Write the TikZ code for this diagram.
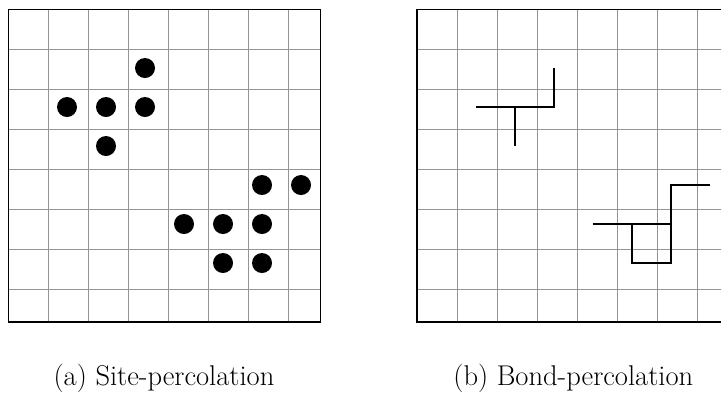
\documentclass[tikz,border=0pt]{standalone}
\begin{document}
\begin{tikzpicture}[x=0.975cm,y=-0.975cm,
  gridline/.style={black!42,line width=0.55pt},
  frame/.style={black,line width=1.4pt},
  site/.style={circle,fill=black,inner sep=0pt,minimum size=0.5cm},
  bond/.style={black,line width=1.45pt},
  caption/.style={font=\fontsize{20.3}{24}\selectfont,anchor=base}]
\useasboundingbox (0,0) rectangle (18.487,10.231);
% (a) site percolation
\begin{scope}[shift={(0.218,0.244)}]
  \draw[gridline] (0,0) grid (8,8);
  \draw[frame] (0,0) rectangle (8,8);
  \foreach \c/\r [count=\i] in {3/1,1/2,2/2,3/2,2/3,6/4,7/4,4/5,5/5,6/5,5/6,6/6}
    \node[site] (s\i) at (\c+0.5,\r+0.5) {};
\end{scope}
% (b) bond percolation
\begin{scope}[shift={(10.70,0.244)}]
  \draw[gridline] (0,0) grid (8,8);
  \draw[frame] (0,0) rectangle (8,8);
  \foreach \c/\r in {1/2,2/2,3/2,3/1,2/3,4/5,5/5,6/5,5/6,6/6,6/4,7/4}
    \coordinate (b\c\r) at (\c+0.5,\r+0.5);
  \draw[bond] (b12) -- (b32) -- (b31);
  \draw[bond] (b22) -- (b23);
  \draw[bond] (b45) -- (b65);
  \draw[bond] (b55) -- (b56) -- (b66) -- (b64) -- (b74);
\end{scope}
\node[caption] (capa) at (4.205,9.897) {(a) Site-percolation};
\node[caption] (capb) at (14.70,9.897) {(b) Bond-percolation};
\end{tikzpicture}
\end{document}
